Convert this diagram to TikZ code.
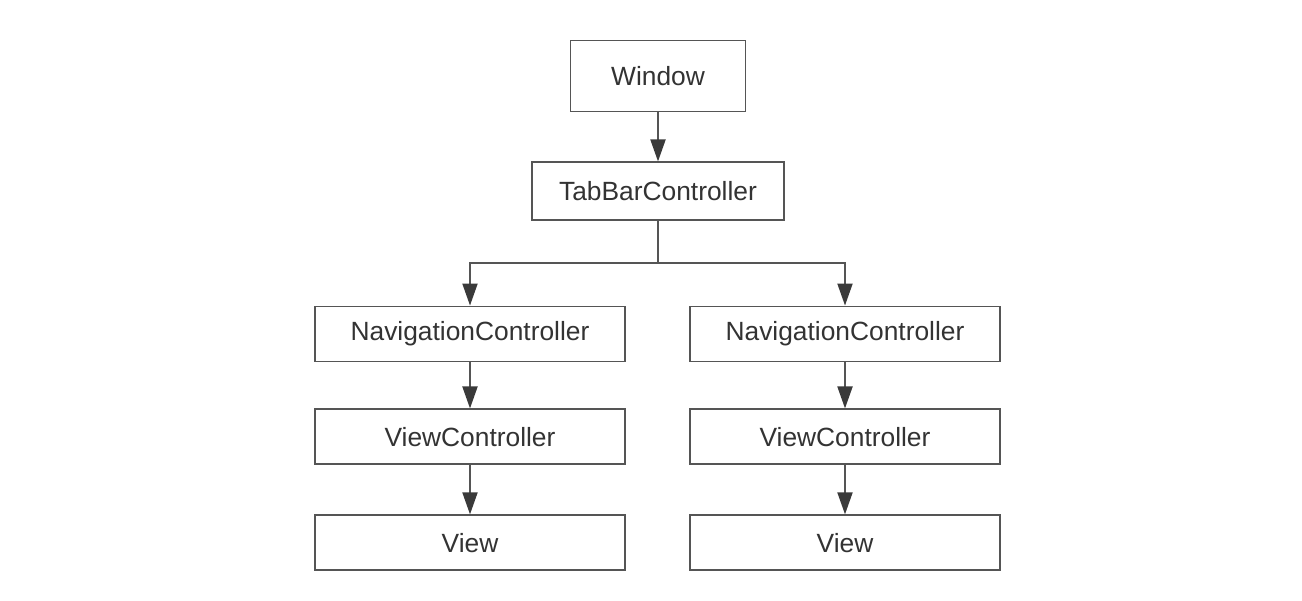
\documentclass[tikz,border=0pt]{standalone}
\usepackage{fontspec}
\setmainfont{Liberation Sans}
\usetikzlibrary{positioning, arrows.meta}
\definecolor{edge}{HTML}{555555}
\definecolor{tip}{HTML}{3A3A3A}
\definecolor{ink}{HTML}{333333}

\begin{document}
\begin{tikzpicture}[x=0.02cm, y=-0.02cm,
        every node/.style={font=\fontsize{15}{18}\selectfont, text=ink},
        box/.style={rectangle, draw=edge, line width=1.1pt, fill=white,
          minimum width=6.2cm, minimum height=1.1cm, align=center},
        arr/.style={-{Triangle[length=0.44cm, width=0.3cm, color=tip]},
          draw=edge, line width=1.1pt}]

      \useasboundingbox (0,0) rectangle (1302,600);

      \node[box, minimum width=3.5cm, minimum height=1.42cm] (win) at (658,76) {Window};
      \node[box, minimum width=5.04cm, minimum height=1.16cm, below=0.98cm of win] (tab) {TabBarController};

      \node[box] (navL) at (470,334) {NavigationController};
      \node[box] (navR) at (845,334) {NavigationController};
      \node[box, below=0.92cm of navL] (vcL) {ViewController};
      \node[box, below=0.92cm of navR] (vcR) {ViewController};
      \node[box, below=0.98cm of vcL] (viewL) {View};
      \node[box, below=0.98cm of vcR] (viewR) {View};

      \coordinate (split) at (658,263);

      \draw[arr] (win) -- (tab);
      \draw[draw=edge, line width=1.1pt] (tab.south) -- (split);
      \draw[arr] (split) -| (navL.north);
      \draw[arr] (split) -| (navR.north);
      \draw[arr] (navL) -- (vcL);
      \draw[arr] (navR) -- (vcR);
      \draw[arr] (vcL) -- (viewL);
      \draw[arr] (vcR) -- (viewR);
    \end{tikzpicture}
\end{document}
